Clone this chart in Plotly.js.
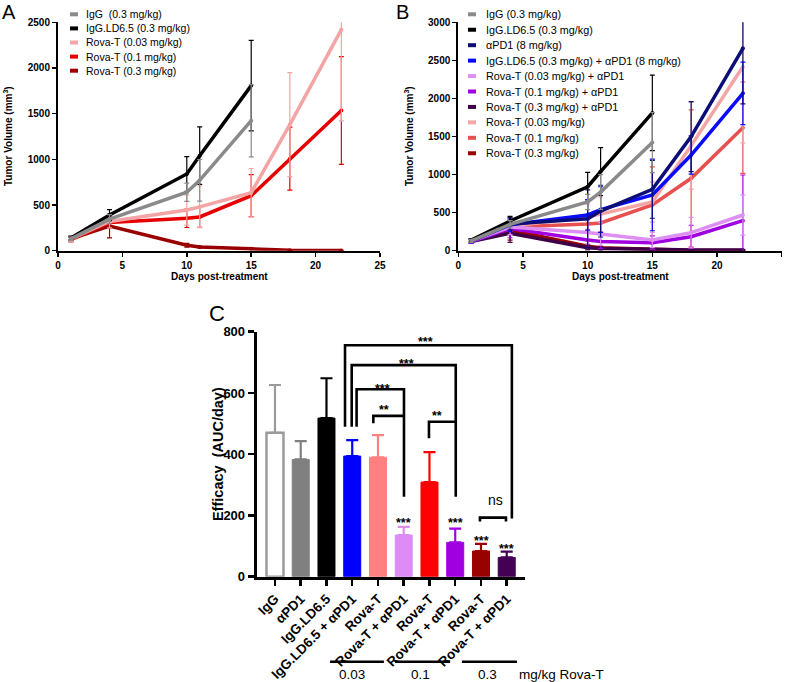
<!DOCTYPE html>
<html><head><meta charset="utf-8">
<script src="https://cdn.plot.ly/plotly-3.0.1.min.js"></script>
<style>html,body{margin:0;padding:0;background:#fff}#chart{width:787px;height:682px}</style>
</head><body><div id="chart"></div>
<script>
// ---------- DATA ----------
const days = [1, 4, 10, 11, 15, 18, 22];

// Panel A
const aNames = ['IgG  (0.3 mg/kg)', 'IgG.LD6.5 (0.3 mg/kg)', 'Rova-T (0.03 mg/kg)', 'Rova-T (0.1 mg/kg)', 'Rova-T (0.3 mg/kg)'];
const aColors = ['#8a8a8a', '#000000', '#f4a4a4', '#e60000', '#990000'];
const aIgG      = [130, 345, 640, 770, 1423, null, null];
const aIgGErr   = [20, 50, 100, 228, 395, 0, 0];
const aLD       = [140, 390, 840, 1040, 1807, null, null];
const aLDErr    = [20, 60, 190, 315, 495, 0, 0];
const aR003     = [130, 320, 445, 480, 635, 1380, 2420];
const aR003Err  = [30, 70, 165, 228, 265, 570, 1000];
const aR01      = [120, 310, 354, 369, 602, 1007, 1535];
const aR01Err   = [25, 60, 100, 113, 230, 345, 590];
const aR03      = [130, 270, 60, 40, 20, 5, 2];
const aR03Err   = [20, 130, 20, 10, 5, 3, 2];

// Panel B
const bNames = ['IgG (0.3 mg/kg)', 'IgG.LD6.5 (0.3 mg/kg)', 'αPD1 (8 mg/kg)', 'IgG.LD6.5 (0.3 mg/kg) + αPD1 (8 mg/kg)',
  'Rova-T (0.03 mg/kg) + αPD1', 'Rova-T (0.1 mg/kg) + αPD1', 'Rova-T (0.3 mg/kg) + αPD1',
  'Rova-T (0.03 mg/kg)', 'Rova-T (0.1 mg/kg)', 'Rova-T (0.3 mg/kg)'];
const bColors = ['#8a8a8a', '#000000', '#0d0d78', '#0a0aff', '#de8ff4', '#a000e0', '#3d0048', '#f4a4a4', '#e8504f', '#990000'];
const bIgG       = [130, 345, 640, 770, 1420, null, null];
const bIgGErr    = [20, 50, 100, 228, 395, 0, 0];
const bLD        = [140, 390, 840, 1040, 1810, null, null];
const bLDErr     = [20, 60, 190, 315, 495, 0, 0];
const bPD1       = [130, 350, 420, 520, 806, 1498, 2658];
const bPD1Err    = [25, 80, 380, 340, 380, 460, 730];
const bLDPD1     = [130, 340, 470, 540, 732, 1257, 2067];
const bLDPD1Err  = [25, 90, 200, 300, 470, 250, 410];
const bR003PD1   = [130, 310, 240, 220, 140, 237, 469];
const bR003PD1Err= [25, 100, 150, 150, 100, 200, 265];
const bR01PD1    = [120, 290, 140, 120, 105, 184, 394];
const bR01PD1Err = [25, 120, 100, 90, 90, 150, 600];
const bR03PD1    = [120, 230, 40, 30, 20, 8, 8];
const bR03PD1Err = [20, 120, 30, 20, 10, 5, 5];
const bR003      = [130, 320, 445, 480, 640, 1380, 2417];
const bR003Err   = [30, 70, 165, 228, 265, 570, 1000];
const bR01       = [120, 310, 350, 365, 600, 951, 1616];
const bR01Err    = [25, 60, 100, 113, 500, 900, 600];
const bR03       = [130, 270, 60, 40, 20, 5, 2];
const bR03Err    = [20, 130, 20, 10, 5, 3, 2];

// Panel C
const cLabels = ['IgG', 'αPD1', 'IgG.LD6.5', 'IgG.LD6.5 + αPD1', 'Rova-T', 'Rova-T + αPD1', 'Rova-T', 'Rova-T + αPD1', 'Rova-T', 'Rova-T + αPD1'];
const cValues = [470, 383, 518, 394, 390, 136, 309, 112, 84, 63];
const cErrors = [156, 60, 130, 52, 72, 27, 98, 45, 23, 19];
const cColors = ['#ffffff', '#808080', '#000000', '#0000ff', '#ff8080', '#dc8cf4', '#ff0000', '#a000e0', '#990000', '#440055'];
const cEdge   = ['#9a9a9a', '#808080', '#000000', '#0000ff', '#ff8080', '#dc8cf4', '#ff0000', '#a000e0', '#990000', '#440055'];
const doseLabels = ['0.03', '0.1', '0.3'];
const doseUnit = 'mg/kg Rova-T';

// ---------- LAYOUT HELPERS ----------
const W = 787, H = 682;
const px = x => x / W;
const py = y => 1 - y / H;
const FONT = 'Liberation Sans, Arial, sans-serif';

const traces = [];
function addLines(names, colors, series, errs, xa, ya) {
  for (let i = series.length - 1; i >= 0; i--) {
    traces.push({
      type: 'scatter', mode: 'lines+markers', x: days, y: series[i],
      xaxis: xa, yaxis: ya, showlegend: false, name: names[i],
      line: {color: colors[i], width: 3.5}, marker: {color: colors[i], size: 4},
      error_y: {type: 'data', array: errs[i], visible: true, color: colors[i], thickness: 1.2, width: 2.5}
    });
  }
}
addLines(aNames, aColors, [aIgG, aLD, aR003, aR01, aR03], [aIgGErr, aLDErr, aR003Err, aR01Err, aR03Err], 'x', 'y');
addLines(bNames, bColors,
  [bIgG, bLD, bPD1, bLDPD1, bR003PD1, bR01PD1, bR03PD1, bR003, bR01, bR03],
  [bIgGErr, bLDErr, bPD1Err, bLDPD1Err, bR003PD1Err, bR01PD1Err, bR03PD1Err, bR003Err, bR01Err, bR03Err], 'x2', 'y2');

cValues.forEach((v, i) => {
  traces.push({
    type: 'bar', x: [i], y: [v], xaxis: 'x3', yaxis: 'y3', width: 0.66, showlegend: false,
    name: cLabels[i],
    marker: {color: cColors[i], line: {color: cEdge[i], width: i === 0 ? 2.5 : 1}},
    error_y: {type: 'data', symmetric: false, array: [cErrors[i]], arrayminus: [0], color: cEdge[i], thickness: 2.2, width: 6}
  });
});

const shapes = [], annotations = [];
function legend(names, colors, x0, x1, xt, y0, dy, size) {
  names.forEach((n, i) => {
    const y = y0 + i * dy;
    shapes.push({type: 'line', xref: 'paper', yref: 'paper', x0: px(x0), x1: px(x1), y0: py(y), y1: py(y),
      line: {color: colors[i], width: 4}});
    annotations.push({xref: 'paper', yref: 'paper', x: px(xt), y: py(y), xanchor: 'left', yanchor: 'middle',
      text: n, showarrow: false, font: {family: FONT, size: size, color: '#000'}});
  });
}
legend(aNames, aColors, 70, 78, 84, 14.3, 14.1, 10.5);
legend(bNames, bColors, 468, 476, 484, 14.3, 15.44, 10.8);

function txt(x, y, t, size, opts) {
  annotations.push(Object.assign({xref: 'paper', yref: 'paper', x: px(x), y: py(y), text: t, showarrow: false,
    xanchor: 'center', yanchor: 'middle', font: {family: FONT, size: size, color: '#000'}}, opts || {}));
}
// panel letters
txt(8.5, 12, 'A', 20);
txt(402, 12, 'B', 20);
txt(217, 313, 'C', 22);
// axis titles
txt(8, 136, 'Tumor Volume (mm<sup>3</sup>)', 10, {textangle: -90, font: {family: FONT, size: 10, weight: 'bold', color: '#000'}});
txt(409, 136, 'Tumor Volume (mm<sup>3</sup>)', 10, {textangle: -90, font: {family: FONT, size: 10, weight: 'bold', color: '#000'}});
txt(219, 276, 'Days post-treatment', 10, {font: {family: FONT, size: 10, weight: 'bold', color: '#000'}});
txt(620, 276, 'Days post-treatment', 10, {font: {family: FONT, size: 10, weight: 'bold', color: '#000'}});
txt(218, 454, 'Efficacy\u00a0 (AUC/day)', 14.5, {textangle: -90, font: {family: FONT, size: 14.5, weight: 'bold', color: '#000'}});

// significance brackets (panel C, data coords)
function bracket(xl, yl, ytop, xr, yr) {
  shapes.push({type: 'path', xref: 'x3', yref: 'y3',
    path: `M ${xl},${yl} L ${xl},${ytop} L ${xr},${ytop} L ${xr},${yr}`,
    line: {color: '#000', width: 2.6}});
}
bracket(2.72, 490, 756, 9.2, 190);
bracket(2.98, 490, 691, 7.02, 261);
bracket(3.17, 490, 612, 5.01, 261);
bracket(3.82, 501, 525, 5.01, 525);
bracket(5.98, 452, 506, 7.02, 506);
bracket(7.96, 180, 193, 8.97, 180);
function star(x, y, t) {
  annotations.push({xref: 'x3', yref: 'y3', x: x, y: y, text: t, showarrow: false, xanchor: 'center', yanchor: 'middle',
    font: {family: FONT, size: 12.5, weight: 'bold', color: '#000'}});
}
star(5.83, 765, '***');
star(5.12, 694, '***');
star(4.18, 612, '***');
star(4.23, 545, '**');
star(6.3, 525, '**');
star(5.0, 175, '***');
star(7.0, 175, '***');
star(8.03, 118, '***');
star(9.0, 92, '***');
annotations.push({xref: 'x3', yref: 'y3', x: 8.55, y: 250, text: 'ns', showarrow: false, xanchor: 'center', yanchor: 'middle',
  font: {family: FONT, size: 14, color: '#000'}});

// dose group lines and labels
[[2.14, 4.23], [4.66, 6.8], [7.26, 9.4]].forEach((s, i) => {
  shapes.push({type: 'line', xref: 'x3', yref: 'paper', x0: s[0], x1: s[1], y0: py(661.7), y1: py(661.7),
    line: {color: '#000', width: 2.5}});
});
[2.98, 5.66, 8.27].forEach((x, i) => {
  annotations.push({xref: 'x3', yref: 'paper', x: x, y: py(674), text: doseLabels[i], showarrow: false,
    xanchor: 'center', yanchor: 'middle', font: {family: FONT, size: 13.5, color: '#000'}});
});
annotations.push({xref: 'x3', yref: 'paper', x: 9.39, y: py(674), text: doseUnit, showarrow: false,
  xanchor: 'left', yanchor: 'middle', font: {family: FONT, size: 13.5, color: '#000'}});

const tickFontAB = {family: FONT, size: 10, weight: 'bold', color: '#000'};
const axAB = {showline: true, linewidth: 2, linecolor: '#000', ticks: 'outside', ticklen: 4, tickwidth: 1.5,
  tickcolor: '#000', showgrid: false, zeroline: false, tickfont: tickFontAB, fixedrange: true};

const layout = {
  width: W, height: H, margin: {l: 0, r: 0, t: 0, b: 0}, paper_bgcolor: '#fff', plot_bgcolor: 'rgba(0,0,0,0)',
  showlegend: false, font: {family: FONT, color: '#000'},
  xaxis: Object.assign({}, axAB, {domain: [px(58), px(380)], range: [0, 25], tickvals: [0, 5, 10, 15, 20, 25], anchor: 'y'}),
  yaxis: Object.assign({}, axAB, {domain: [py(250.7), py(22.3)], range: [0, 2500], tickvals: [0, 500, 1000, 1500, 2000, 2500], anchor: 'x'}),
  xaxis2: Object.assign({}, axAB, {domain: [px(458.3), px(781.7)], range: [0, 25], tickvals: [0, 5, 10, 15, 20, 25], anchor: 'y2'}),
  yaxis2: Object.assign({}, axAB, {domain: [py(250.7), py(22.3)], range: [0, 3000], tickvals: [0, 500, 1000, 1500, 2000, 2500, 3000], anchor: 'x2'}),
  xaxis3: {domain: [px(256.7), px(525)], range: [-0.71, 9.71], anchor: 'y3', showline: true, linewidth: 3, linecolor: '#000',
    ticks: 'outside', ticklen: 6, tickwidth: 2.5, tickcolor: '#000', showgrid: false, zeroline: false,
    tickvals: [0, 1, 2, 3, 4, 5, 6, 7, 8, 9], ticktext: cLabels, tickangle: -45,
    tickfont: {family: FONT, size: 13.5, weight: 'bold', color: '#000'}, fixedrange: true},
  yaxis3: {domain: [py(576.7), py(331.7)], range: [0, 800], anchor: 'x3', showline: true, linewidth: 3, linecolor: '#000',
    ticks: 'outside', ticklen: 6, tickwidth: 2.5, tickcolor: '#000', showgrid: false, zeroline: false,
    tickvals: [0, 200, 400, 600, 800], tickfont: {family: FONT, size: 13, weight: 'bold', color: '#000'}, fixedrange: true},
  shapes: shapes, annotations: annotations
};

Plotly.newPlot('chart', traces, layout, {displayModeBar: false, staticPlot: true});
</script></body></html>
